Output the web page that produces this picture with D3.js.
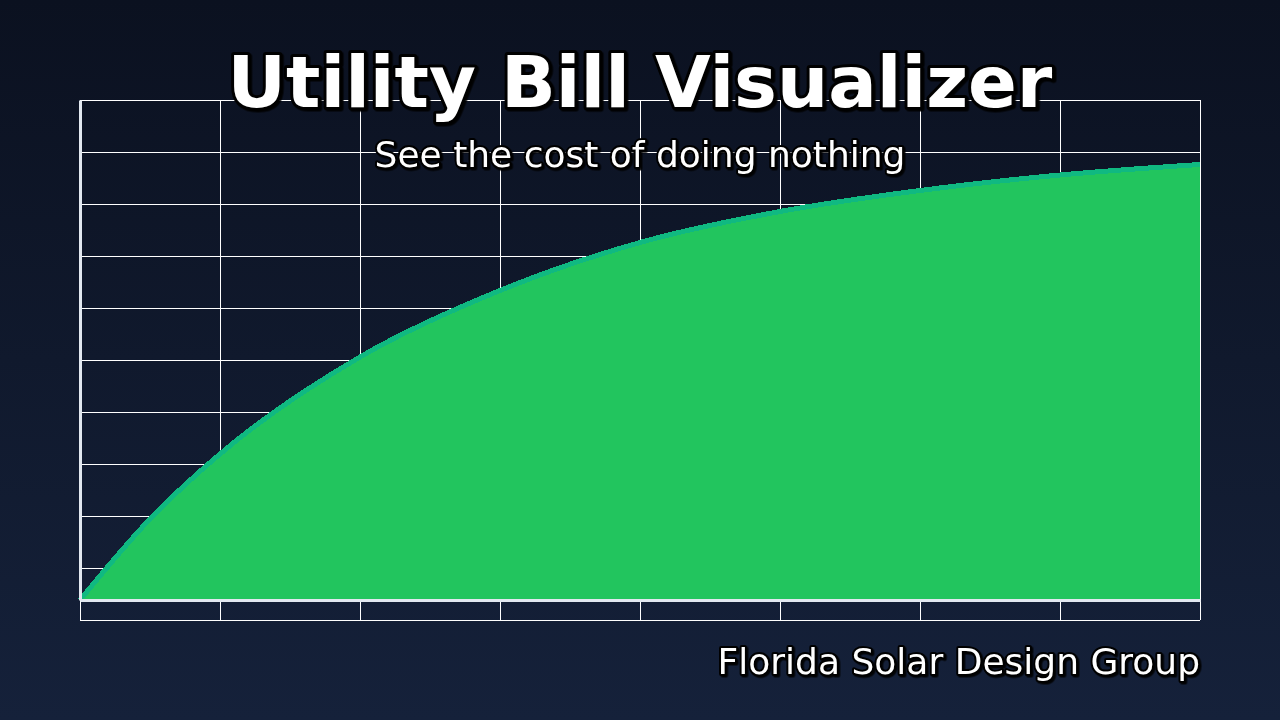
<!DOCTYPE html>
<html>
<head>
<meta charset="utf-8">
<script src="https://cdn.jsdelivr.net/npm/d3@7"></script>
<style>
  html, body { margin: 0; padding: 0; background: #0c1221; }
  svg { display: block; }
  .ttl { font-family: "DejaVu Sans", sans-serif; fill: #fff; stroke: #000; paint-order: stroke; stroke-linejoin: round; }
</style>
</head>
<body>
<div id="chart"></div>
<script>
// cost data (years on x grid units, cumulative cost in % of scale)
var years = [0, 0.5, 1, 2, 3, 4, 5, 6, 7, 8];
var cost  = [0, 16.2, 29.2, 48.6, 61.9, 71.5, 77.7, 81.9, 85.0, 87.1];
var gridCols = d3.range(0, 9);   // vertical grid lines
var gridRows = d3.range(0, 11);  // horizontal grid lines

var titleText = "Utility Bill Visualizer",
    subtitleText = "See the cost of doing nothing",
    footerText = "Florida Solar Design Group";

var W = 1280, H = 720;
var margin = {top: 100, right: 80, bottom: 100, left: 80};

var svg = d3.select("#chart")
    .append("svg")
    .attr("width", W)
    .attr("height", H);

var defs = svg.append("defs");
var grad = defs.append("linearGradient")
    .attr("id", "bg").attr("x1", 0).attr("y1", 0).attr("x2", 0).attr("y2", 1);
grad.append("stop").attr("offset", "0%").attr("stop-color", "#0b1120");
grad.append("stop").attr("offset", "100%").attr("stop-color", "#15213a");

var shadow = defs.append("filter").attr("id", "shadow")
    .attr("x", "-10%").attr("y", "-30%").attr("width", "120%").attr("height", "160%");
shadow.append("feDropShadow")
    .attr("dx", 1.5).attr("dy", 1.5).attr("stdDeviation", 0.5)
    .attr("flood-color", "#000").attr("flood-opacity", 0.9);

svg.append("rect").attr("width", W).attr("height", H).attr("fill", "url(#bg)");

// scales
var x = d3.scaleLinear().domain([0, 8]).range([margin.left, W - margin.right]);
var y = d3.scaleLinear().domain([0, 100]).range([600, 100]);
var gy = d3.scaleLinear().domain([0, 10]).range([620, 100]);

// grid
var grid = svg.append("g").attr("class", "grid");
grid.selectAll(".vline")
    .data(gridCols)
  .enter().append("line")
    .attr("x1", function(d) { return x(d); })
    .attr("x2", function(d) { return x(d); })
    .attr("y1", gy(10)).attr("y2", gy(0))
    .attr("stroke", "#fff").attr("stroke-width", 1)
    .attr("shape-rendering", "crispEdges");
grid.selectAll(".hline")
    .data(gridRows)
  .enter().append("line")
    .attr("x1", x(0)).attr("x2", x(8))
    .attr("y1", function(d) { return gy(d); })
    .attr("y2", function(d) { return gy(d); })
    .attr("stroke", "#fff").attr("stroke-width", 1)
    .attr("shape-rendering", "crispEdges");

var data = years.map(function(d, i) { return {year: d, cost: cost[i]}; });

var area = d3.area()
    .x(function(d) { return x(d.year); })
    .y0(y(0))
    .y1(function(d) { return y(d.cost); })
    .curve(d3.curveMonotoneX);

var line = d3.line()
    .x(function(d) { return x(d.year); })
    .y(function(d) { return y(d.cost); })
    .curve(d3.curveMonotoneX);

svg.append("path")
    .datum(data)
    .attr("d", area)
    .attr("fill", "#22c55e")
    .attr("shape-rendering", "crispEdges");

svg.append("path")
    .datum(data)
    .attr("d", line)
    .attr("fill", "none")
    .attr("stroke", "#10b981")
    .attr("stroke-width", 5)
    .attr("shape-rendering", "crispEdges");

// axes
svg.append("g")
    .attr("transform", "translate(0," + y(0) + ")")
    .call(d3.axisBottom(x).tickSize(0).tickFormat(""))
    .call(function(g) {
        g.select(".domain").attr("stroke", "#e2e8f0").attr("stroke-width", 3);
    });
svg.append("g")
    .attr("transform", "translate(" + x(0) + ",0)")
    .call(d3.axisLeft(y).tickSize(0).tickFormat(""))
    .call(function(g) {
        g.select(".domain").attr("stroke", "#e2e8f0").attr("stroke-width", 3);
    });

// titles
svg.append("text")
    .attr("class", "ttl")
    .attr("x", W / 2).attr("y", 107)
    .attr("text-anchor", "middle")
    .style("font-size", "72px").style("font-weight", "bold")
    .attr("stroke-width", 6)
    .attr("filter", "url(#shadow)")
    .text(titleText);

svg.append("text")
    .attr("class", "ttl")
    .attr("x", W / 2).attr("y", 167)
    .attr("text-anchor", "middle")
    .style("font-size", "36px")
    .attr("stroke-width", 4)
    .attr("filter", "url(#shadow)")
    .text(subtitleText);

svg.append("text")
    .attr("class", "ttl")
    .attr("x", 1200).attr("y", 674)
    .attr("text-anchor", "end")
    .style("font-size", "36px")
    .attr("stroke-width", 4)
    .attr("filter", "url(#shadow)")
    .text(footerText);
</script>
</body>
</html>
